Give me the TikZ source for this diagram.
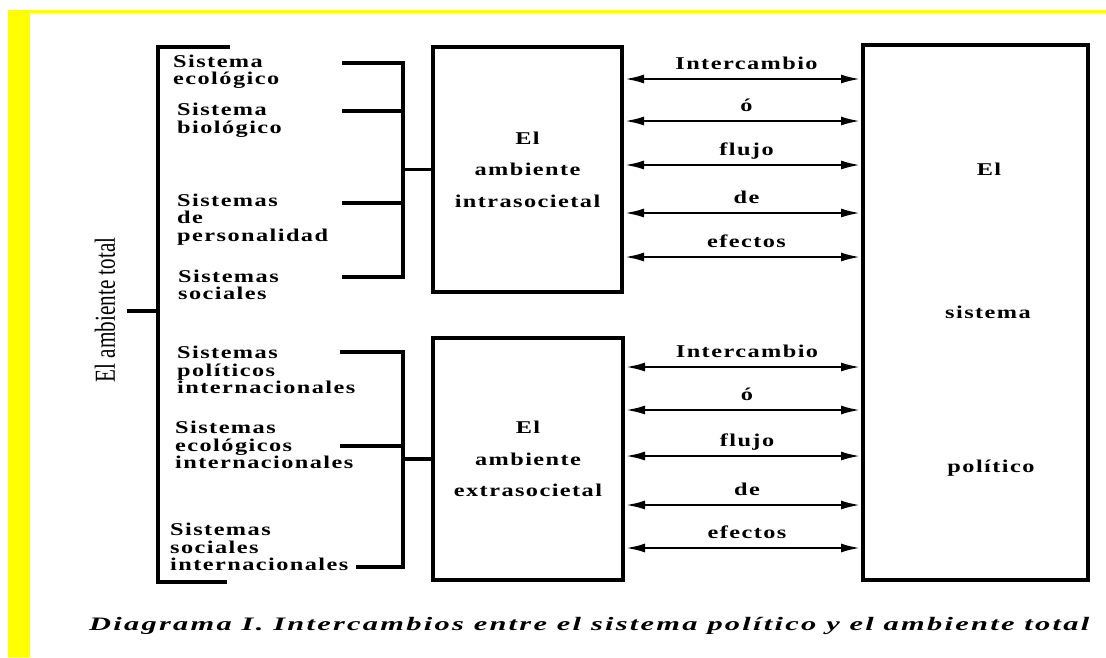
\documentclass[tikz,border=0pt]{standalone}
\usepackage{fontspec}
\setmainfont{Liberation Serif}
\newfontfamily\labfont{Liberation Serif}[FakeStretch=1.35, LetterSpace=8]
\newfontfamily\capfont{Liberation Serif}[FakeStretch=1.6, LetterSpace=12]
\newfontfamily\rotfont{Liberation Serif}[FakeStretch=0.73]
\usetikzlibrary{arrows.meta}
\definecolor{hlyellow}{RGB}{255,255,0}
\tikzset{
  lab/.style={font=\labfont\bfseries\fontsize{18}{17.5}\selectfont, inner sep=0pt},
  item/.style={lab, align=left, anchor=west},
  boxnode/.style={draw, line width=4pt, inner sep=0pt, align=center,
    font=\labfont\bfseries\fontsize{18}{31.5}\selectfont},
  br/.style={line width=3.2pt},
  arr/.style={line width=2.8pt, {Latex[length=20pt,width=9pt]}-{Latex[length=20pt,width=9pt]}},
}
\begin{document}
\begin{tikzpicture}[x=1pt,y=-1pt]
\useasboundingbox (0,0) rectangle (1106,657);
\fill[hlyellow] (8,10) rectangle (30,657);
\fill[hlyellow] (8,10) rectangle (1106,13);

% boxes
\node[boxnode, minimum width=189pt, minimum height=245pt] (b1) at (527.5,169.5) {El\\ambiente\\intrasocietal};
\node[boxnode, minimum width=190pt, minimum height=242pt] (b2) at (528,459) {El\\ambiente\\extrasocietal};
\node[boxnode, minimum width=225pt, minimum height=535pt] (sp) at (975.5,312.5) {};
\node[lab, anchor=base] (sp1) at (989,175) {El};
\node[lab, anchor=base] (sp2) at (988,318) {sistema};
\node[lab, anchor=base] (sp3) at (991,472) {político};

% left items
\node[item] (i1) at (173,71.5) {Sistema\\ecológico};
\node[item] (i2) at (177,120) {Sistema\\biológico};
\node[item] (i3) at (177,219.5) {Sistemas\\de\\personalidad};
\node[item] (i4) at (178,285) {Sistemas\\sociales};
\node[item] (i5) at (177,370) {Sistemas\\políticos\\internacionales};
\node[item] (i6) at (175,445) {Sistemas\\ecológicos\\internacionales};
\node[item] (i7) at (170,547) {Sistemas\\sociales\\internacionales};

% bracket 1
\coordinate (k1) at (342,63);
\coordinate (k2) at (342,111);
\coordinate (k3) at (342,203);
\coordinate (k4) at (342,277);
\coordinate (s1) at (403,0);
\draw[br] (k1) -- (k1 -| s1) -- (k4 -| s1) -- (k4);
\draw[br] (k2) -- (k2 -| s1);
\draw[br] (k3) -- (k3 -| s1);
\draw[br] (b1.west) -- (b1.west -| s1);

% bracket 2
\coordinate (k5) at (340,352);
\coordinate (k6) at (340,446);
\coordinate (k7) at (356,567);
\coordinate (s2) at (403,0);
\draw[br] (k5) -- (k5 -| s2) -- (k7 -| s2) -- (k7);
\draw[br] (k6) -- (k6 -| s2);
\draw[br] (b2.west) -- (b2.west -| s2);

% big bracket
\coordinate (g1) at (230,47);
\coordinate (g2) at (227,582);
\coordinate (g0) at (158,0);
\coordinate (gm) at (127,311);
\draw[br] (g1) -- (g1 -| g0) -- (g2 -| g0) -- (g2);
\draw[br] (gm) -- (gm -| g0);
\node[rotate=90, font=\rotfont\fontsize{29}{30}\selectfont, inner sep=0pt] (tot) at (105,310) {El ambiente total};

% arrows
\foreach \yy/\lbl [count=\n] in {79/Intercambio,121/ó,165/flujo,213/de,257/efectos} {
  \coordinate (ra\n) at (b1.east |- 0,\yy);
  \draw[arr] (ra\n) -- (ra\n -| sp.west) node[lab, midway, anchor=base, xshift=4pt, yshift=9.5pt] (la\n) {\lbl};
}
\foreach \yy/\lbl [count=\n] in {367/Intercambio,410/ó,456/flujo,505/de,548/efectos} {
  \coordinate (rb\n) at (b2.east |- 0,\yy);
  \draw[arr] (rb\n) -- (rb\n -| sp.west) node[lab, midway, anchor=base, xshift=4pt, yshift=9.5pt] (lb\n) {\lbl};
}

% caption
\node[font=\capfont\bfseries\itshape\fontsize{19}{24}\selectfont, anchor=base west, inner sep=0pt] (cap) at (89,630) {Diagrama I. Intercambios entre el sistema político y el ambiente total};
\end{tikzpicture}
\end{document}
